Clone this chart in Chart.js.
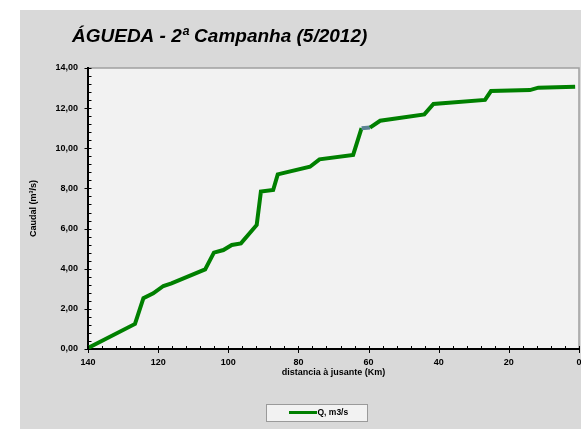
<!DOCTYPE html>
<html>
<head>
<meta charset="utf-8">
<script src="https://cdn.jsdelivr.net/npm/chart.js@4"></script>
<style>
  body { margin: 0; background: #fff; }
  #chart { position: absolute; left: 20px; top: 10px; background: #d9d9d9; }
</style>
</head>
<body>
<canvas id="chart" width="561" height="419"></canvas>
<script>
// data
const titleText = 'ÁGUEDA - 2ª Campanha (5/2012)';
const seriesLabel = 'Q, m3/s';
const distances = [140, 126.6, 124.2, 121.4, 118.5, 116.2, 106.6, 104.1, 101.4, 99.0, 96.4, 91.9, 90.7, 87.2, 85.9, 76.7, 74.0, 64.4, 62.0, 59.6, 56.7, 44.1, 41.5, 26.8, 25.1, 14.0, 11.6, 1.1];
const flows = [0.05, 1.25, 2.53, 2.77, 3.14, 3.27, 3.97, 4.80, 4.93, 5.18, 5.26, 6.18, 7.84, 7.92, 8.70, 9.08, 9.45, 9.67, 11.00, 11.03, 11.37, 11.69, 12.21, 12.41, 12.85, 12.90, 13.02, 13.07];
const xTicks = [140, 120, 100, 80, 60, 40, 20, 0];
const yTicks = [0, 2, 4, 6, 8, 10, 12, 14];
const xMinorStep = 4;
const yMinorStep = 0.4;

const fam = '"Liberation Sans", Arial, sans-serif';
const green = '#008000';

const points = distances.map((d, i) => ({ x: d, y: flows[i] }));

// plot background, frame, minor ticks, title and legend box
const frame = {
    id: 'frame',
    beforeDraw(chart) {
        const { ctx, chartArea: a } = chart;
        ctx.save();
        ctx.fillStyle = '#f2f2f2';
        ctx.fillRect(a.left, a.top, a.right - a.left, a.bottom - a.top);
        ctx.strokeStyle = '#a0a0a0';
        ctx.lineWidth = 1.5;
        ctx.beginPath();
        ctx.moveTo(a.left, a.top);
        ctx.lineTo(a.right, a.top);
        ctx.lineTo(a.right, a.bottom);
        ctx.stroke();
        ctx.restore();
    },
    afterDraw(chart) {
        const { ctx, chartArea: a, scales: { x, y } } = chart;
        ctx.save();
        ctx.strokeStyle = '#000';
        ctx.lineWidth = 1;
        ctx.beginPath();
        const nx = Math.round((x.max - x.min) / xMinorStep);
        for (let i = 0; i <= nx; i++) {
            const px = Math.round(x.getPixelForValue(x.min + i * xMinorStep)) + 0.5;
            ctx.moveTo(px, a.bottom - 3);
            ctx.lineTo(px, a.bottom);
        }
        xTicks.forEach(v => {
            const px = Math.round(x.getPixelForValue(v)) + 0.5;
            ctx.moveTo(px, a.bottom - 3);
            ctx.lineTo(px, a.bottom + 4);
        });
        const ny = Math.round((y.max - y.min) / yMinorStep);
        for (let i = 0; i <= ny; i++) {
            const py = Math.round(y.getPixelForValue(y.min + i * yMinorStep)) + 0.5;
            ctx.moveTo(a.left, py);
            ctx.lineTo(a.left + 3.5, py);
        }
        yTicks.forEach(v => {
            const py = Math.round(y.getPixelForValue(v)) + 0.5;
            ctx.moveTo(a.left - 3.5, py);
            ctx.lineTo(a.left + 3, py);
        });
        ctx.stroke();

        // title
        ctx.fillStyle = '#000';
        ctx.font = 'italic bold 19px ' + fam;
        ctx.textBaseline = 'alphabetic';
        ctx.textAlign = 'left';
        ctx.fillText(titleText, 52, 32);

        // legend
        const ds = chart.data.datasets[0];
        ctx.fillStyle = '#f2f2f2';
        ctx.fillRect(246, 394, 102, 18);
        ctx.strokeStyle = '#9a9a9a';
        ctx.strokeRect(246.5, 394.5, 101, 17);
        ctx.strokeStyle = ds.borderColor;
        ctx.lineWidth = 3;
        ctx.beginPath();
        ctx.moveTo(269, 402.5);
        ctx.lineTo(297, 402.5);
        ctx.stroke();
        ctx.fillStyle = '#000';
        ctx.font = 'bold 8.5px ' + fam;
        ctx.textBaseline = 'middle';
        ctx.fillText(ds.label, 297.5, 403);
        ctx.restore();
    }
};

new Chart(document.getElementById('chart'), {
    type: 'line',
    data: {
        datasets: [{
            label: seriesLabel,
            data: points,
            borderColor: green,
            borderWidth: 4,
            pointRadius: 0,
            tension: 0,
            segment: {
                borderColor: ctx => ctx.p0DataIndex === 18 ? '#5b8294' : undefined
            }
        }]
    },
    options: {
        responsive: false,
        animation: false,
        devicePixelRatio: 1,
        layout: {
            padding: { top: 58, right: 2, bottom: 50, left: 0 }
        },
        plugins: {
            legend: { display: false },
            title: { display: false },
            tooltip: { enabled: false }
        },
        scales: {
            x: {
                type: 'linear',
                reverse: true,
                min: 0,
                max: 140,
                afterBuildTicks: s => { s.ticks = xTicks.map(v => ({ value: v })); },
                afterFit: s => { s.height = 30; s.paddingLeft = 0; s.paddingRight = 0; },
                grid: { display: false, drawTicks: false },
                border: { display: true, color: '#000', width: 2 },
                ticks: {
                    padding: 8,
                    color: '#000',
                    maxRotation: 0,
                    font: { family: fam, size: 9, weight: 'bold' }
                },
                title: {
                    display: true,
                    text: 'distancia à jusante (Km)',
                    color: '#000',
                    padding: { top: 0, bottom: 1 },
                    font: { family: fam, size: 9, weight: 'bold' }
                }
            },
            y: {
                min: 0,
                max: 14,
                afterBuildTicks: s => { s.ticks = yTicks.map(v => ({ value: v })); },
                afterFit: s => { s.width = 68; s.paddingTop = 0; s.paddingBottom = 0; },
                grid: { display: false, drawTicks: false },
                border: { display: true, color: '#000', width: 2 },
                ticks: {
                    padding: 10,
                    color: '#000',
                    font: { family: fam, size: 9, weight: 'bold' },
                    callback: v => v.toFixed(2).replace('.', ',')
                },
                title: {
                    display: true,
                    text: 'Caudal (m³/s)',
                    color: '#000',
                    padding: { top: 8.6, bottom: 0 },
                    font: { family: fam, size: 9, weight: 'bold' }
                }
            }
        }
    },
    plugins: [frame]
});
</script>
</body>
</html>
